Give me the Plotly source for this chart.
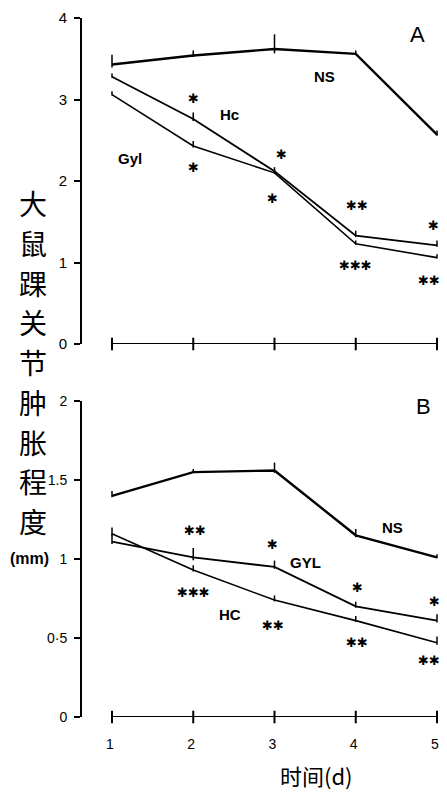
import plotly.graph_objects as go

REF_W, REF_H = 447, 798
OFF = 8  # page body margin
W, H = REF_W - 2 * OFF, REF_H - 2 * OFF

def px(x):
    return (x - OFF) / W

def py(y):
    return 1 - (y - OFF) / H

days = [1, 2, 3, 4, 5]

# Panel A
a_ns = [3.43, 3.54, 3.62, 3.56, 2.57]
a_hc = [3.28, 2.76, 2.12, 1.33, 1.21]
a_gyl = [3.06, 2.43, 2.10, 1.23, 1.06]
a_ns_err = [0.12, 0.06, 0.18, 0.04, 0.05]
a_hc_err = [0.04, 0.08, 0.05, 0.06, 0.06]
a_gyl_err = [0.04, 0.06, 0.04, 0.04, 0.04]

# Panel B
b_ns = [1.40, 1.55, 1.56, 1.15, 1.01]
b_hc = [1.16, 0.93, 0.74, 0.61, 0.47]
b_gyl = [1.11, 1.01, 0.95, 0.70, 0.61]
b_ns_err = [0.03, 0.02, 0.05, 0.04, 0.02]
b_hc_err = [0.04, 0.03, 0.03, 0.03, 0.04]
b_gyl_err = [0.05, 0.06, 0.04, 0.03, 0.04]

a_ticks = [0, 1, 2, 3, 4]
a_ticktext = ["0", "1", "2", "3", "4"]
b_ticks = [0, 0.5, 1, 1.5, 2]
b_ticktext = ["0", "0·5", "1", "1.5", "2"]

y_title_chars = list("大鼠踝关节肿胀程度")

# significance marks (day, y, text)
a_sig = [(2, 3.01, "*"), (2, 2.16, "*"), (3.08, 2.33, "*"), (2.98, 1.78, "*"),
         (4.02, 1.70, "**"), (4.0, 0.96, "***"), (4.96, 1.45, "*"), (4.9, 0.78, "**")]
b_sig = [(2.02, 1.18, "**"), (2.0, 0.79, "***"), (2.98, 1.09, "*"), (2.98, 0.58, "**"),
         (4.02, 0.82, "*"), (4.02, 0.47, "**"), (4.97, 0.73, "*"), (4.9, 0.36, "**")]

a_labels = [(3.62, 3.28, "NS"), (2.45, 2.82, "Hc"), (1.22, 2.28, "Gyl")]
b_labels = [(4.45, 1.20, "NS"), (3.38, 0.98, "GYL"), (2.45, 0.65, "HC")]

fig = go.Figure()

def add_series(y, err, xa, ya, width):
    fig.add_trace(go.Scatter(
        x=days, y=y, mode="lines", xaxis=xa, yaxis=ya,
        line=dict(color="black", width=width),
        error_y=dict(type="data", array=err, arrayminus=[e * 0.3 for e in err],
                     color="black", thickness=1.5, width=0),
        showlegend=False, cliponaxis=False))

add_series(a_ns, a_ns_err, "x", "y", 2.4)
add_series(a_hc, a_hc_err, "x", "y", 1.8)
add_series(a_gyl, a_gyl_err, "x", "y", 1.6)
add_series(b_ns, b_ns_err, "x2", "y2", 2.4)
add_series(b_hc, b_hc_err, "x2", "y2", 1.6)
add_series(b_gyl, b_gyl_err, "x2", "y2", 1.8)

# baseline x axes with day ticks
for xa, ya in (("x", "y"), ("x2", "y2")):
    fig.add_trace(go.Scatter(
        x=days, y=[0] * len(days), mode="lines+markers", xaxis=xa, yaxis=ya,
        line=dict(color="black", width=2.2),
        marker=dict(symbol="line-ns", size=9, line=dict(color="black", width=2)),
        showlegend=False, cliponaxis=False))

font_main = "Liberation Sans, DejaVu Sans, sans-serif"
ann = []

def data_ann(x, y, xr, yr, text, size, family):
    ann.append(dict(x=x, y=y, xref=xr, yref=yr, text=text, showarrow=False,
                    xanchor="center", yanchor="middle",
                    font=dict(size=size, color="black", family=family)))

for (x, y, t) in a_sig:
    data_ann(x, y, "x", "y", t.replace("*", "✱"), 13, "DejaVu Sans")
for (x, y, t) in b_sig:
    data_ann(x, y, "x2", "y2", t.replace("*", "✱"), 13, "DejaVu Sans")
for (x, y, t) in a_labels:
    data_ann(x, y, "x", "y", "<b>" + t + "</b>", 15, font_main)
for (x, y, t) in b_labels:
    data_ann(x, y, "x2", "y2", "<b>" + t + "</b>", 15, font_main)

def paper_ann(x, y, text, size, family):
    ann.append(dict(x=px(x), y=py(y), xref="paper", yref="paper", text=text,
                    showarrow=False, xanchor="center", yanchor="middle",
                    font=dict(size=size, color="black", family=family)))

paper_ann(417, 35, "A", 22, font_main)
paper_ann(423, 407, "B", 22, font_main)
# vertical y-axis title, one character per row
top_c, bot_c = 203, 521
step = (bot_c - top_c) / (len(y_title_chars) - 1)
for i, ch in enumerate(y_title_chars):
    paper_ann(33, top_c + i * step, ch, 28, "Noto Sans CJK SC")
paper_ann(29, 558, "<b>(mm)</b>", 16, font_main)
paper_ann(316, 775, "时间(d)", 22, "Noto Sans CJK SC")

x_lo = 1 - (112 - 82) / 81.25
x_hi = 5 + (439 - 437) / 81.25
xcommon = dict(range=[x_lo, x_hi], domain=[px(82), 1], showline=False, showgrid=False,
               zeroline=False, showticklabels=False, ticks="", automargin=False)

yaxis_common = dict(showline=True, linecolor="black", linewidth=2, ticks="outside",
                    ticklen=6, tickwidth=2, tickcolor="black", showgrid=False,
                    zeroline=False, ticklabelstandoff=4, automargin=False,
                    ticklabeloverflow="allow")

fig.update_layout(
    width=W, height=H, margin=dict(l=0, r=0, t=0, b=0, autoexpand=False),
    paper_bgcolor="white", plot_bgcolor="white",
    xaxis=dict(**xcommon, anchor="y"),
    xaxis2=dict(**xcommon, anchor="y2"),
    yaxis=dict(range=[0, 4], domain=[py(344), py(18)], anchor="x",
               tickvals=a_ticks, ticktext=a_ticktext,
               tickfont=dict(size=15, color="black", family=font_main), **yaxis_common),
    yaxis2=dict(range=[0, 2], domain=[py(717), py(401)], anchor="x2",
                tickvals=b_ticks, ticktext=b_ticktext,
                tickfont=dict(size=14, color="black", family=font_main), **yaxis_common),
    annotations=ann,
)

fig.update_layout(xaxis2=dict(showticklabels=True, tickvals=days,
                              ticktext=[str(d) for d in days],
                              tickfont=dict(size=14, color="black", family=font_main),
                              ticks="outside", ticklen=14, tickcolor="rgba(0,0,0,0)",
                              ticklabeloverflow="allow", ticklabelshift=-2))

fig.write_html("out.html")
